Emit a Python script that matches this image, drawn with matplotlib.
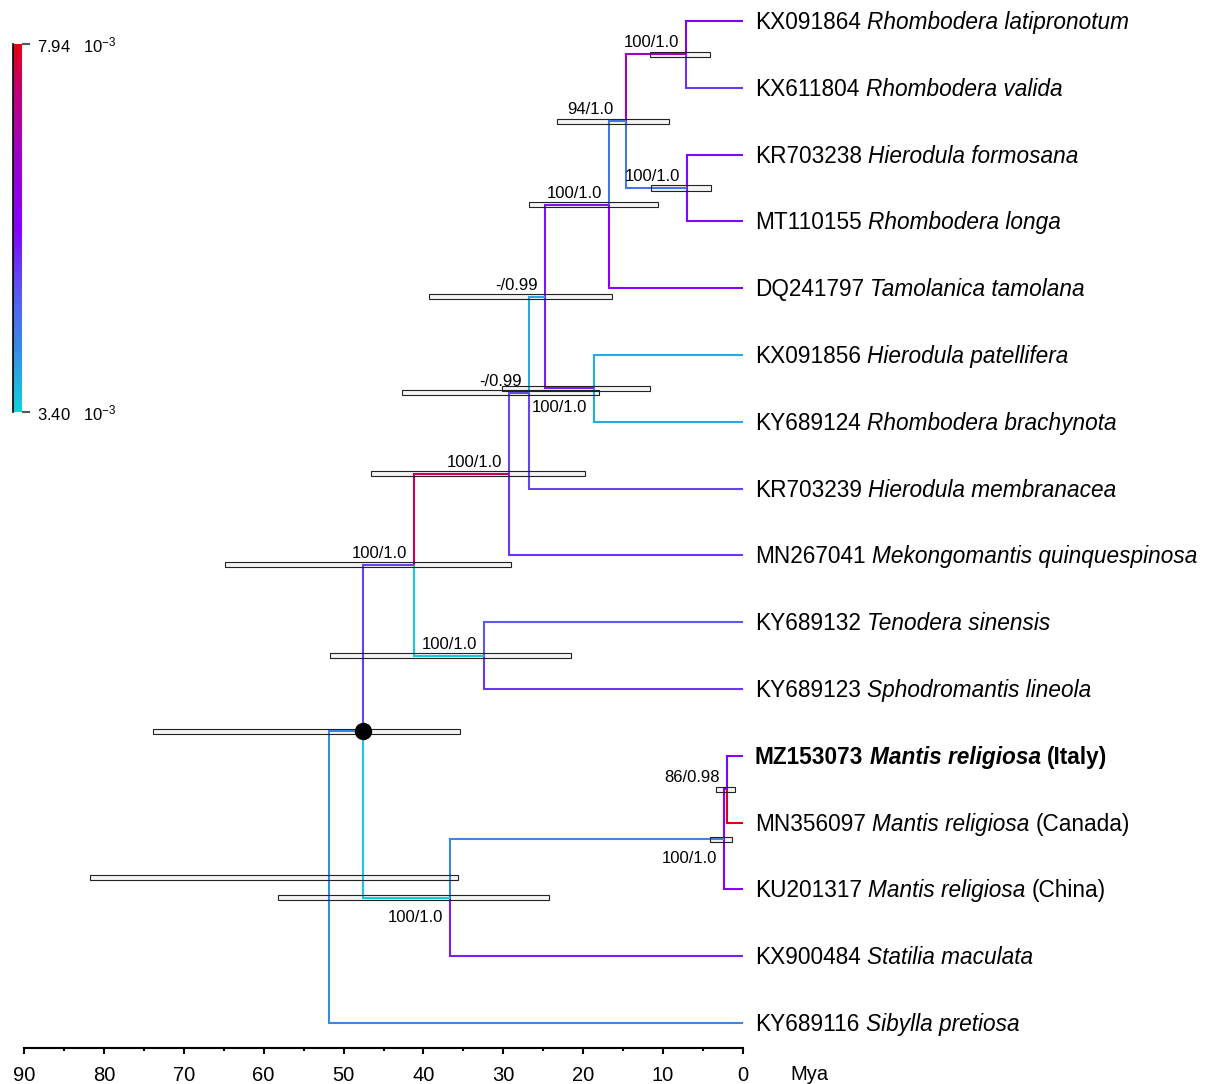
import matplotlib
matplotlib.use('Agg')
import matplotlib.pyplot as plt
from matplotlib.colors import LinearSegmentedColormap, Normalize
from matplotlib.cm import ScalarMappable

plt.rcParams['font.family'] = ['Liberation Sans', 'DejaVu Sans']
plt.rcParams['mathtext.fontset'] = 'custom'
plt.rcParams['mathtext.rm'] = 'Liberation Sans'
plt.rcParams['mathtext.it'] = 'Liberation Sans:italic'

# tips, top to bottom
accessions = ['KX091864', 'KX611804', 'KR703238', 'MT110155', 'DQ241797',
              'KX091856', 'KY689124', 'KR703239', 'MN267041', 'KY689132',
              'KY689123', 'MZ153073', 'MN356097', 'KU201317', 'KX900484',
              'KY689116']
species = ['Rhombodera latipronotum', 'Rhombodera valida', 'Hierodula formosana',
           'Rhombodera longa', 'Tamolanica tamolana', 'Hierodula patellifera',
           'Rhombodera brachynota', 'Hierodula membranacea',
           'Mekongomantis quinquespinosa', 'Tenodera sinensis',
           'Sphodromantis lineola', 'Mantis religiosa', 'Mantis religiosa',
           'Mantis religiosa', 'Statilia maculata', 'Sibylla pretiosa']
countries = ['', '', '', '', '', '', '', '', '', '', '',
             '(Italy)', '(Canada)', '(China)', '', '']
bold_tip = 'MZ153073'
# substitution rate of the branch to each tip (x 10^-3)
tip_rates = [5.75, 5.2, 5.6, 5.6, 5.7, 3.85, 3.85, 5.1, 5.2, 4.85, 5.2,
             5.7, 7.94, 5.7, 5.4, 4.2]

# internal nodes
node_names = ['H', 'I', 'G', 'F', 'E', 'D', 'C', 'B', 'J', 'A', 'M', 'L', 'K', 'N1', 'R']
node_children = [(0, 1), (2, 3), ('H', 'I'), ('G', 4), (5, 6), ('F', 'E'),
                 ('D', 7), ('C', 8), (9, 10), ('B', 'J'), (11, 12), ('M', 13),
                 ('L', 14), ('A', 'K'), ('N1', 15)]
node_ages = [7.1, 7.0, 14.6, 16.75, 18.6, 24.75, 26.75, 29.25, 32.4, 41.1,
             2.0, 2.4, 36.6, 47.5, 51.75]
hpd_low = [4.1, 4.0, 9.25, 10.6, 11.6, 16.4, 18.0, 19.75, 21.5, 29.0,
           1.0, 1.4, 24.25, 35.4, 35.6]
hpd_high = [11.6, 11.5, 23.25, 26.75, 30.1, 39.25, 42.6, 46.5, 51.6, 64.75,
            3.4, 4.1, 58.1, 73.75, 81.6]
support = ['100/1.0', '100/1.0', '94/1.0', '100/1.0', '100/1.0', '-/0.99',
           '-/0.99', '100/1.0', '100/1.0', '100/1.0', '86/0.98', '100/1.0',
           '100/1.0', '', '']
support_below = ['E', 'L', 'K']
node_rates = [6.6, 4.5, 4.5, 5.5, 5.4, 3.85, 5.0, 7.5, 3.5, 5.1, 5.7, 4.2,
              3.5, 4.2, None]
calibrated = ['N1']

rate_min, rate_max = 3.40, 7.94

cmap = LinearSegmentedColormap.from_list('rate', [
    (0.0, '#10d2dc'), (0.18, '#3a88e4'), (0.33, '#5a58f0'), (0.5, '#8400ff'),
    (0.69, '#9c00c8'), (0.86, '#bc0080'), (1.0, '#e00010')])
norm = Normalize(rate_min, rate_max)

# positions
pos = {}
for i in range(len(accessions)):
    pos[i] = (0.0, float(i))
for name, ch, age in zip(node_names, node_children, node_ages):
    y = (pos[ch[0]][1] + pos[ch[1]][1]) / 2
    pos[name] = (age, y)

fig = plt.figure(figsize=(12.05, 10.84), dpi=100)
ax = fig.add_axes([0, 0, 1, 1])
ax.set_xlim(92.875, -57.75)
ax.set_ylim(15.913, -0.3144)
ax.axis('off')

rates = {i: r for i, r in enumerate(tip_rates)}
rates.update({n: r for n, r in zip(node_names, node_rates)})

# branches
for name, ch in zip(node_names, node_children):
    px, py = pos[name]
    for c in ch:
        cx, cy = pos[c]
        ax.plot([px, px, cx], [py, cy, cy], color=cmap(norm(rates[c])),
                lw=1.5, zorder=2, solid_joinstyle='miter', solid_capstyle='butt')

# HPD bars
bar_y = [pos[n][1] for n in node_names]
bar_w = [h - l for l, h in zip(hpd_low, hpd_high)]
ax.barh(bar_y, bar_w, left=hpd_low, height=0.075, color='#f4f4f4',
        edgecolor='none', zorder=1)
ax.barh(bar_y, bar_w, left=hpd_low, height=0.075, facecolor='none',
        edgecolor='#222222', lw=0.8, zorder=3)

for n in calibrated:
    ax.plot(*pos[n], 'o', color='black', ms=11.5, zorder=4)

# support labels
for name, s in zip(node_names, support):
    if not s:
        continue
    dy = -18 if name in support_below else 13
    dx = -13 if name == 'G' else -7
    ax.annotate(s, xy=pos[name], xytext=(dx, dy), textcoords='offset pixels',
                ha='right', va='center_baseline', fontsize=12, zorder=5)

# tip labels
renderer = fig.canvas.get_renderer()
tip_fs = 16.3
gap = 0.278 * tip_fs * 100 / 72
for i, (acc, sp, co) in enumerate(zip(accessions, species, countries)):
    weight = 'bold' if acc == bold_tip else 'normal'
    pieces = [(acc, 'normal'), (sp, 'italic')]
    if co:
        pieces.append((co, 'normal'))
    x_off = 12
    for txt, style in pieces:
        t = ax.annotate(txt, xy=(0, i), xytext=(x_off, 1), textcoords='offset pixels',
                        ha='left', va='center_baseline', fontsize=tip_fs,
                        fontstyle=style, fontweight=weight)
        x_off += t.get_window_extent(renderer).width + gap

# time axis
tax = fig.add_axes([24 / 1205, 36 / 1084, 719 / 1205, 1e-4])
tax.set_xlim(90, 0)
tax.set_ylim(0, 1)
tax.patch.set_visible(False)
for s in ['top', 'left', 'right']:
    tax.spines[s].set_visible(False)
tax.spines['bottom'].set_linewidth(1.5)
tax.set_yticks([])
tax.set_xticks(range(0, 91, 10))
tax.set_xticks(range(5, 90, 10), minor=True)
tax.tick_params(axis='x', which='major', length=4.5, width=1.5, pad=8.5, labelsize=14.5)
tax.tick_params(axis='x', which='minor', length=2, width=1.5)
fig.text(790 / 1205, 1 - 1074 / 1084, 'Mya', ha='left', va='center', fontsize=14.5)

# colour legend
cax = fig.add_axes([13 / 1205, 1 - 412 / 1084, 9 / 1205, 368 / 1084])
cb = fig.colorbar(ScalarMappable(norm=norm, cmap=cmap), cax=cax)
cb.outline.set_visible(False)
cax.plot([0, 0], [0, 1], transform=cax.transAxes, color='black', lw=1.2, clip_on=False)
cb.set_ticks([rate_min, rate_max])
cb.set_ticklabels(['%.2f   $10^{-3}$' % rate_min, '%.2f   $10^{-3}$' % rate_max])
cax.tick_params(length=6, width=1.5, color='#555555', pad=5, labelsize=12)

fig.savefig('out.png', dpi=100)
